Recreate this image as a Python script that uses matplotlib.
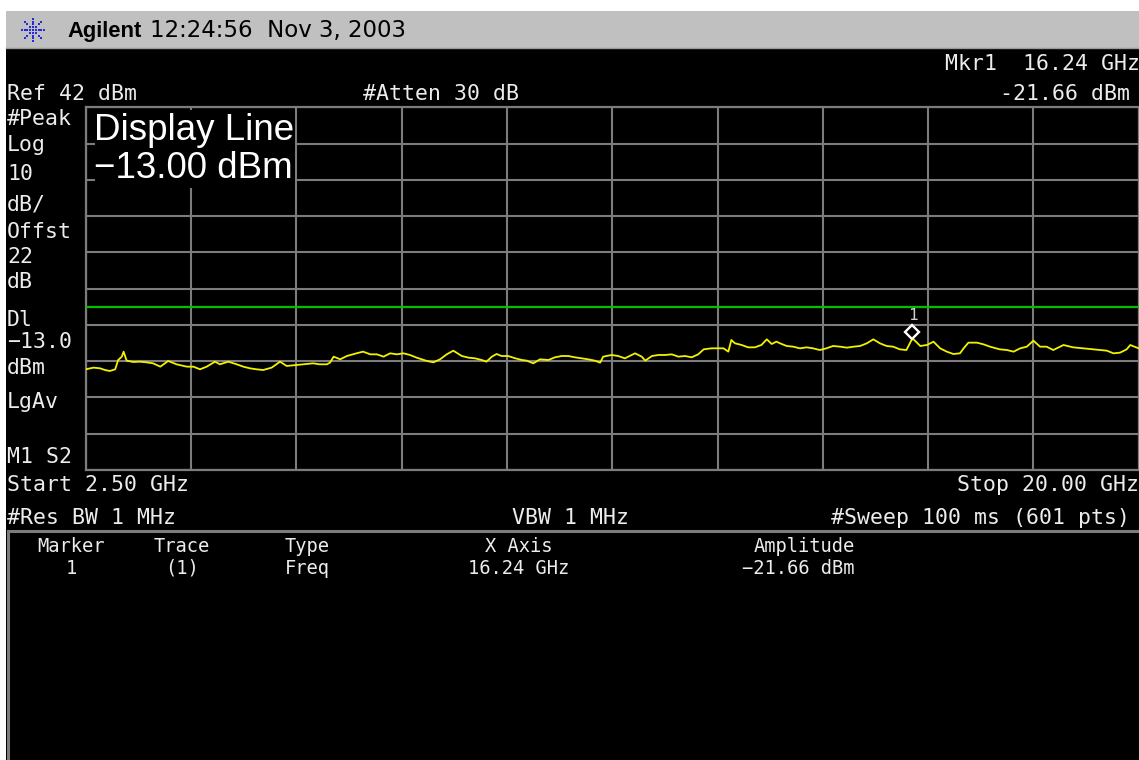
import matplotlib.pyplot as plt
from matplotlib.patches import Rectangle
from matplotlib.lines import Line2D
from matplotlib.transforms import offset_copy

W, H = 1139, 760

# trace (GHz, dBm)
freq_ghz = [
    2.50, 2.63, 2.74, 2.82, 2.90, 2.99, 3.04, 3.10, 3.13, 3.18, 3.29, 3.40, 3.51, 3.62,
    3.74, 3.87, 4.01, 4.18, 4.29, 4.40, 4.51, 4.65, 4.73, 4.87, 5.01, 5.12, 5.23, 5.34,
    5.45, 5.59, 5.73, 5.84, 6.01, 6.17, 6.28, 6.39, 6.51, 6.56, 6.62, 6.73, 6.84, 7.00,
    7.11, 7.23, 7.34, 7.45, 7.56, 7.67, 7.78, 7.89, 8.00, 8.17, 8.28, 8.39, 8.50, 8.61,
    8.75, 8.86, 8.97, 9.08, 9.16, 9.25, 9.33, 9.41, 9.52, 9.64, 9.75, 9.83, 9.94, 10.05,
    10.19, 10.30, 10.41, 10.52, 10.63, 10.74, 10.85, 10.96, 11.05, 11.10, 11.24, 11.35,
    11.46, 11.63, 11.74, 11.80, 11.91, 12.02, 12.13, 12.24, 12.35, 12.46, 12.57, 12.68,
    12.77, 12.90, 13.01, 13.10, 13.18, 13.23, 13.29, 13.40, 13.51, 13.62, 13.73, 13.82,
    13.90, 13.98,
    14.04, 14.15, 14.26, 14.37, 14.48, 14.59, 14.70, 14.81, 14.92, 15.04, 15.15, 15.26,
    15.37, 15.48, 15.59, 15.70, 15.81, 15.92, 16.03, 16.14, 16.24, 16.37, 16.48, 16.59,
    16.70, 16.81, 16.92, 17.03, 17.09, 17.17, 17.31, 17.42, 17.53, 17.69, 17.81, 17.92,
    18.03, 18.14, 18.25, 18.36, 18.47, 18.58, 18.75, 18.91, 19.08, 19.25, 19.36, 19.47,
    19.58, 19.69, 19.80, 19.86, 20.00,
]
level_dbm = [
    -30.24, -29.78, -29.97, -30.43, -30.70, -30.24, -27.67, -26.75, -25.37, -27.85, -28.22, -28.13, -28.31, -28.59,
    -29.51, -27.94, -28.86, -29.51, -29.51, -30.24, -29.51, -28.13, -28.86, -28.13, -28.86, -29.51, -29.97, -30.24,
    -30.43, -29.78, -28.13, -29.32, -29.05, -28.77, -28.59, -28.86, -28.86, -28.40, -26.75, -27.48, -26.57, -25.83,
    -25.37, -26.11, -26.11, -26.75, -25.83, -26.11, -25.83, -26.29, -27.02, -27.94, -28.31, -27.48, -26.11, -25.10,
    -26.57, -27.02, -27.21, -27.67, -28.13, -26.75, -26.01, -26.57, -26.57, -27.21, -27.67, -27.85, -28.59, -27.48,
    -27.67, -26.93, -26.57, -26.57, -26.93, -27.21, -27.48, -27.85, -28.40, -26.75, -26.29, -26.57,
    -27.21, -25.83, -26.75, -27.85, -26.57, -26.29, -26.29, -26.11, -26.75, -26.57, -26.93, -26.11,
    -24.73, -24.45, -24.45, -24.45, -25.37, -22.15, -23.07, -23.53, -24.18, -24.18, -23.53, -21.97,
    -23.26, -22.61,
    -23.08, -23.81, -24.00, -24.46, -24.18, -24.46, -24.92, -24.46, -23.81, -24.00, -24.27, -24.00,
    -23.81, -23.08, -21.97, -23.08, -23.81, -24.00, -24.73, -24.92, -21.66, -23.81, -23.54, -22.62,
    -24.46, -25.37, -26.02, -25.83, -24.46, -22.89, -22.89, -23.35, -24.00, -24.73, -24.92, -25.37,
    -24.46, -24.00, -22.34, -24.00, -24.00, -24.92, -23.54, -24.18, -24.46, -24.73, -24.92, -25.10,
    -25.83, -25.65, -24.73, -23.54, -24.46,
]

ref_level = 42
db_per_div = 10
start_ghz = 2.50
stop_ghz = 20.00
display_line = -13.0
marker_ghz = 16.24
marker_dbm = -21.66

left_labels = ["#Peak", "Log", "10", "dB/", "Offst", "22", "dB", "Dl", "\u221213.0", "dBm", "LgAv", "M1 S2"]
table_head = ["Marker", "Trace", "Type", "X Axis", "Amplitude"]
table_row = ["1", "(1)", "Freq", f"{marker_ghz:.2f} GHz", f"{marker_dbm:.2f} dBm"]

GRID = "#7c7c7c"
TXT = "#ececec"
MONO = "DejaVu Sans Mono"


def fx(x):
    return x / W


def fy(y):
    return 1 - y / H


def say(x, y, s, size=15.5, **kw):
    kw.setdefault("color", TXT)
    kw.setdefault("family", MONO)
    kw.setdefault("va", "baseline")
    fig.text(fx(x), fy(y), s, fontsize=size, **kw)


fig = plt.figure(figsize=(W / 100, H / 100), dpi=100, facecolor="white")

# screen background and title bar
fig.add_artist(Rectangle((fx(6), 0), 1, fy(48), transform=fig.transFigure,
                         facecolor="black", edgecolor="none", zorder=-10))
fig.add_artist(Rectangle((fx(6), fy(48)), 1, 37 / H, transform=fig.transFigure,
                         facecolor="#c0c0c0", edgecolor="none", zorder=-10))
fig.add_artist(Line2D([fx(6), 1], [fy(48), fy(48)], transform=fig.transFigure,
                      color="#9a9a9a", lw=1))

# little spark logo
cx, cy = 33, 30
for dx, dy, n in [(1, 0, 4), (-1, 0, 4), (0, 1, 4), (0, -1, 4),
                  (1, 1, 3), (-1, 1, 3), (1, -1, 3), (-1, -1, 3)]:
    xs = [fx(cx + dx * 2.8 * k) for k in range(n + 1)]
    ys = [fy(cy + dy * 2.8 * k) for k in range(n + 1)]
    fig.add_artist(Line2D(xs, ys, transform=fig.transFigure, ls="none",
                          marker="s", ms=1.6, mew=0, color="#2a2ad8"))

say(67, 37, "Agilent", size=15.8, family="Liberation Sans", weight="bold", color="black")
say(150, 37, "12:24:56  Nov 3, 2003", size=16.5, family="DejaVu Sans", color="black")

# graticule
ax = fig.add_axes([fx(85.7), fy(470), 1053 / W, 362.7 / H])
ax.set_facecolor("black")
ax.set_xlim(start_ghz, stop_ghz)
ax.set_ylim(ref_level - 10 * db_per_div, ref_level)
ax.set_xticks([start_ghz + i * (stop_ghz - start_ghz) / 10 for i in range(11)])
ax.set_yticks([ref_level - i * db_per_div for i in range(11)])
ax.tick_params(length=0, labelbottom=False, labelleft=False)
ax.grid(True, color=GRID, lw=1.5)
for s in ax.spines.values():
    s.set_color(GRID)
    s.set_linewidth(1.6)

ax.axhline(display_line, color="#00c000", lw=1.6, zorder=3)
ax.plot(freq_ghz, level_dbm, color="#f2f200", lw=1.3, zorder=4)

up = offset_copy(ax.transData, fig=fig, x=0, y=6.5, units="dots")
ax.plot([marker_ghz], [marker_dbm], marker="D", ms=7, mfc="black", mec="white",
        mew=1.7, transform=up, zorder=5)
up2 = offset_copy(ax.transData, fig=fig, x=0, y=18, units="dots")
ax.text(marker_ghz, marker_dbm, "1", transform=up2, ha="center", va="baseline",
        fontsize=11.5, family=MONO, color="#cfcfcf", zorder=5)

# black box behind the display line readout
fig.add_artist(Rectangle((fx(94.5), fy(188)), 200 / W, 78.5 / H, transform=fig.transFigure,
                         facecolor="black", edgecolor="none", zorder=1))
say(94, 140, "Display Line", size=26.5, family="Liberation Sans", color="white")
say(94, 178.5, f"\u2212{abs(display_line):.2f} dBm", size=26.5, family="Liberation Sans", color="white")

# annotation around graticule
say(1140, 70, f"Mkr1  {marker_ghz:.2f} GHz", ha="right")
say(1130, 100, f"{marker_dbm:.2f} dBm", ha="right")
say(7, 100, f"Ref {ref_level} dBm")
say(363, 100, "#Atten 30 dB")

for s, yb in zip(left_labels, [125, 151, 180, 210, 238, 263, 288, 326, 348, 374, 408, 463]):
    say(7, yb, s)

say(7, 491, f"Start {start_ghz:.2f} GHz")
say(1139, 491, f"Stop {stop_ghz:.2f} GHz", ha="right")
say(7, 524, "#Res BW 1 MHz")
say(512, 524, "VBW 1 MHz")
say(1130, 524, "#Sweep 100 ms (601 pts)", ha="right")

# marker table
fig.add_artist(Rectangle((fx(8), -0.02), 1, fy(531) + 0.02, transform=fig.transFigure,
                         fill=False, edgecolor=GRID, lw=2.2, zorder=2))
cols = [(71, "center"), (182, "center"), (307, "center"), (519, "center"), (855, "right")]
for (xc, ha), h, v in zip(cols, table_head, table_row):
    say(xc, 551.5, h, size=13.5, ha=ha)
    say(xc, 574, v.replace("-", "\u2212") if v.startswith("-") else v, size=13.5, ha=ha)

fig.savefig("out.png", dpi=100, facecolor=fig.get_facecolor())
